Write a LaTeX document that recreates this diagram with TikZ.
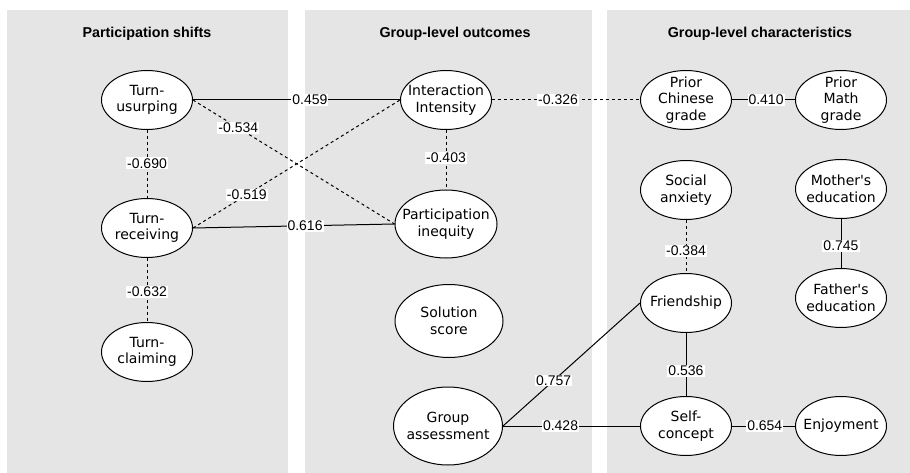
\documentclass[tikz,border=0pt]{standalone}
\usepackage{fontspec}
\setmainfont{DejaVu Sans}
\newfontfamily\numfont{Liberation Sans}
\usepackage{tikz}
\usetikzlibrary{shapes.geometric}
\definecolor{panelgray}{RGB}{229,229,229}

\tikzset{
  var/.style={ellipse, draw=black, fill=white, line width=1pt,
    minimum width=91pt, minimum height=59pt, inner xsep=-15pt, inner ysep=-4pt,
    align=center, font=\fontsize{14}{16.5}\selectfont},
  lbl/.style={fill=white, inner sep=1pt, font=\numfont\fontsize{14}{16}\selectfont},
  ttl/.style={font=\numfont\bfseries\fontsize{14.3}{16}\selectfont},
  sol/.style={line width=1pt},
  dsh/.style={line width=1pt, dash pattern=on 3pt off 3pt}
}

\begin{document}
\begin{tikzpicture}[x=1pt,y=-1pt]
\useasboundingbox (0,0) rectangle (910,473);
%%%%%%%%%%%%%%%%%%Draw Background Panels%%%%%%%%%%%%%%%
\fill[panelgray] (7,10) rectangle (288,473);
\fill[panelgray] (305,10) rectangle (592,473);
\fill[panelgray] (607,10) rectangle (910,473);

\node[ttl] (tshift) at (147,34) {Participation shifts};
\node[ttl] (tout) at (455,34) {Group-level outcomes};
\node[ttl] (tchar) at (760,34) {Group-level characteristics};

%%%%%%%%%%%%%%%%%%Participation Shifts%%%%%%%%%%%%%%%%%%
\node[var] (usurp) at (147,100) {Turn-\\usurping};
\node[var] (recv) at (147,228) {Turn-\\receiving};
\node[var] (claim) at (147,352) {Turn-\\claiming};

%%%%%%%%%%%%%%%%%%Group-level Outcomes%%%%%%%%%%%%%%%%%%
\node[var] (intens) at (446,100) {Interaction\\Intensity};
\node[var, minimum width=102pt, minimum height=68pt] (ineq) at (446,224) {Participation\\inequity};
\node[var, minimum width=108pt, minimum height=73pt] (solut) at (449,321) {Solution\\score};
\node[var, minimum width=109pt, minimum height=78pt] (gassess) at (448,426) {Group\\assessment};

%%%%%%%%%%%%%%%Group-level Characteristics%%%%%%%%%%%%%%%
\node[var] (chin) at (686,100) {Prior\\Chinese\\grade};
\node[var] (math) at (841,100) {Prior\\Math\\grade};
\node[var] (anx) at (686,190) {Social\\anxiety};
\node[var] (mother) at (841,189) {Mother\textquotesingle s\\education};
\node[var] (friend) at (686,303) {Friendship};
\node[var] (father) at (841,298) {Father\textquotesingle s\\education};
\node[var] (selfc) at (686,426) {Self-\\concept};
\node[var] (enjoy) at (841,426) {Enjoyment};

%%%%%%%%%%%%%%%%%%%%Draw Correlations%%%%%%%%%%%%%%%%%%%%
\draw[sol] (usurp.east) -- (intens.west) node[lbl, pos=0.565] {0.459};
\draw[dsh] (usurp.east) -- (ineq.west) node[lbl, pos=0.225] {-0.534};
\draw[dsh] (usurp) -- (recv) node[lbl, pos=0.49] {-0.690};
\draw[dsh] (recv.east) -- (intens.west) node[lbl, pos=0.26] {-0.519};
\draw[sol] (recv.east) -- (ineq.west) node[lbl, pos=0.556] {0.616};
\draw[dsh] (recv) -- (claim) node[lbl, pos=0.53] {-0.632};

\draw[dsh] (intens) -- (ineq) node[lbl, pos=0.47] {-0.403};
\draw[dsh] (intens) -- (chin) node[lbl, pos=0.446] {-0.326};
\draw[sol] (chin) -- (math) node[lbl, pos=0.54] {0.410};

\draw[dsh] (anx) -- (friend) node[lbl, pos=0.58] {-0.384};
\draw[sol] (mother) -- (father) node[lbl, pos=0.55] {0.745};
\draw[sol] (gassess.east) -- (friend.west) node[lbl, pos=0.37] {0.757};
\draw[sol] (gassess) -- (selfc) node[lbl, pos=0.42] {0.428};
\draw[sol] (friend) -- (selfc) node[lbl, pos=0.6] {0.536};
\draw[sol] (selfc) -- (enjoy) node[lbl, pos=0.52] {0.654};

\end{tikzpicture}
\end{document}
